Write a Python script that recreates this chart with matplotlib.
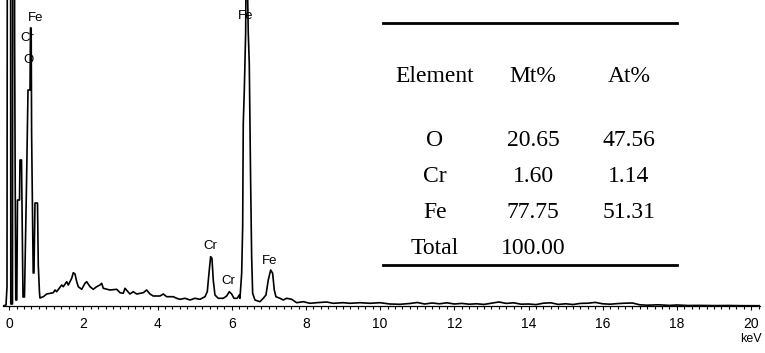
import matplotlib
matplotlib.use('Agg')
import matplotlib.pyplot as plt
from matplotlib.lines import Line2D
from matplotlib.ticker import MultipleLocator

# EDS spectrum, energy in keV and counts (arbitrary units)
energy_kev = [-0.167, -0.086, -0.059, -0.038, 0.030, 0.043, 0.089, 0.102, 0.137, 0.146,
              0.162, 0.178, 0.205, 0.224, 0.278, 0.291, 0.332, 0.345, 0.372, 0.412,
              0.466, 0.507, 0.561, 0.574, 0.593, 0.604, 0.628, 0.647, 0.668, 0.695,
              0.763, 0.784, 0.817, 0.830, 0.919, 1.011, 1.100, 1.189, 1.235, 1.280,
              1.369, 1.415, 1.458, 1.550, 1.593, 1.639, 1.685, 1.728, 1.774, 1.820,
              1.863, 1.954, 2.043, 2.089, 2.178, 2.267, 2.358, 2.447, 2.493, 2.536,
              2.717, 2.898, 2.987, 3.075, 3.121, 3.256, 3.345, 3.437, 3.615, 3.706,
              3.795, 3.884, 4.065, 4.154, 4.245, 4.423, 4.515, 4.604, 4.739, 4.873,
              5.008, 5.143, 5.278, 5.340, 5.394, 5.431, 5.466, 5.501, 5.547, 5.636,
              5.771, 5.863, 5.933, 5.997, 6.059, 6.148, 6.202, 6.221, 6.267, 6.294,
              6.310, 6.337, 6.375, 6.383, 6.418, 6.445, 6.472, 6.509, 6.536, 6.563,
              6.625, 6.760, 6.849, 6.922, 6.984, 7.049, 7.102, 7.146, 7.191, 7.299,
              7.388, 7.480, 7.615, 7.749, 7.927, 8.108, 8.288, 8.558, 8.736, 9.005,
              9.186, 9.456, 9.725, 9.995, 10.26, 10.53, 10.8, 11.0, 11.2, 11.4,
              11.6, 11.8, 12.0, 12.2, 12.4, 12.6, 12.8, 13.0, 13.2, 13.4,
              13.6, 13.8, 14.0, 14.2, 14.4, 14.6, 14.8, 15.0, 15.2, 15.4,
              15.6, 15.8, 16.0, 16.2, 16.4, 16.6, 16.8, 17.0, 17.2, 17.5,
              17.8, 18.0, 18.3, 18.6, 19.0, 19.4, 19.8, 20.24]
counts = [0, 1, 19, 900, 900, 2, 2, 900, 900, 267,
          123, 6, 6, 106, 106, 146, 146, 104, 9, 9,
          120, 216, 216, 278, 278, 173, 90, 33, 33, 103,
          103, 41, 13, 8, 9.3, 12, 12.7, 13.3, 16, 14.3,
          18.7, 21, 19.3, 24.3, 21, 24.3, 27.7, 33.3, 32, 24.3,
          19.3, 16.7, 22.7, 24.3, 19.3, 16.7, 19.3, 21, 22.7, 17.7,
          16, 16.7, 13.3, 12.7, 17.7, 12, 14.3, 12, 13.3, 16,
          12, 10, 10, 12, 9.3, 9.3, 7.7, 6.7, 7.7, 6,
          7.7, 6.7, 9.3, 14.3, 36, 49.3, 47.7, 26, 11, 7.7,
          7.7, 10, 14.3, 12, 7.7, 7.7, 11, 7.7, 32.7, 79.3,
          182.7, 214.3, 274.3, 330, 330, 272.7, 242.7, 122.7, 49.3, 12.7,
          6, 4.3, 7.7, 11, 26, 36, 32.7, 16, 9.3, 7.7,
          6, 7.7, 6.7, 3.3, 4.3, 2.7, 3.3, 4, 2.7, 3.3,
          2.7, 3.3, 2.7, 3.3, 2.0, 1.7, 2.5, 3.5, 2.0, 3.0,
          2.2, 3.2, 2.0, 2.6, 1.8, 2.2, 1.6, 2.8, 4.0, 2.6,
          3.2, 1.8, 2.0, 1.4, 2.8, 3.2, 1.6, 2.2, 1.5, 2.6,
          2.8, 3.6, 2.2, 1.8, 2.4, 2.8, 3.0, 1.2, 0.8, 1.2,
          0.6, 1.0, 0.5, 0.6, 0.4, 0.5, 0.3, 0.3]

# peak labels: text, energy, height
peak_names = ['Fe', 'Cr', 'O', 'Fe', 'Cr', 'Cr', 'Fe']
peak_kev = [0.709, 0.480, 0.507, 6.38, 5.41, 5.92, 7.03]
peak_y = [288, 268, 246, 290, 60, 25, 45]

# composition table
elements = ['O', 'Cr', 'Fe', 'Total']
mass_pct = ['20.65', '1.60', '77.75', '100.00']
atom_pct = ['47.56', '1.14', '51.31', '']

fig = plt.figure(figsize=(7.65, 3.53), dpi=100)
ax = fig.add_axes([3 / 765, 47 / 353, 757 / 765, 306 / 353])

ax.plot(energy_kev, counts, color='black', lw=1.2, zorder=2)
for name, e, y in zip(peak_names, peak_kev, peak_y):
    ax.text(e, y, name, ha='center', va='center', fontsize=9.5,
            family='Liberation Sans', zorder=1)

ax.set_xlim(-0.167, 20.24)
ax.set_ylim(0, 306)
for s in ['top', 'left', 'right']:
    ax.spines[s].set_visible(False)
ax.spines['bottom'].set_linewidth(0.9)
ax.set_yticks([])
ax.xaxis.set_major_locator(MultipleLocator(2))
ax.xaxis.set_minor_locator(MultipleLocator(0.2))
ax.tick_params(axis='x', which='major', direction='out', length=3, width=0.8, pad=5,
               labelsize=10)
ax.tick_params(axis='x', which='minor', direction='out', length=2.2, width=0.8)
for lab in ax.get_xticklabels():
    lab.set_family('Liberation Sans')
fig.text(751 / 765, 1 - 339 / 353, 'keV', ha='center', va='center', fontsize=9,
         family='Liberation Sans')

# table rules
x0, x1 = 383 / 765, 677 / 765
for yy in [1 - 23 / 353, 1 - 265 / 353]:
    fig.add_artist(Line2D([x0, x1], [yy, yy], color='black', lw=2.0))

col_x = [435 / 765, 533 / 765, 629 / 765]
tfont = dict(ha='center', va='center', fontsize=17, family='Liberation Serif')
for cx, head in zip(col_x, ['Element', 'Mt%', 'At%']):
    fig.text(cx, 1 - 77 / 353, head, **tfont)
row_y = [140, 177, 213, 248]
for ry, el, m, a in zip(row_y, elements, mass_pct, atom_pct):
    fig.text(col_x[0], 1 - ry / 353, el, **tfont)
    fig.text(col_x[1], 1 - ry / 353, m, **tfont)
    fig.text(col_x[2], 1 - ry / 353, a, **tfont)

fig.savefig('out.png', dpi=100)
